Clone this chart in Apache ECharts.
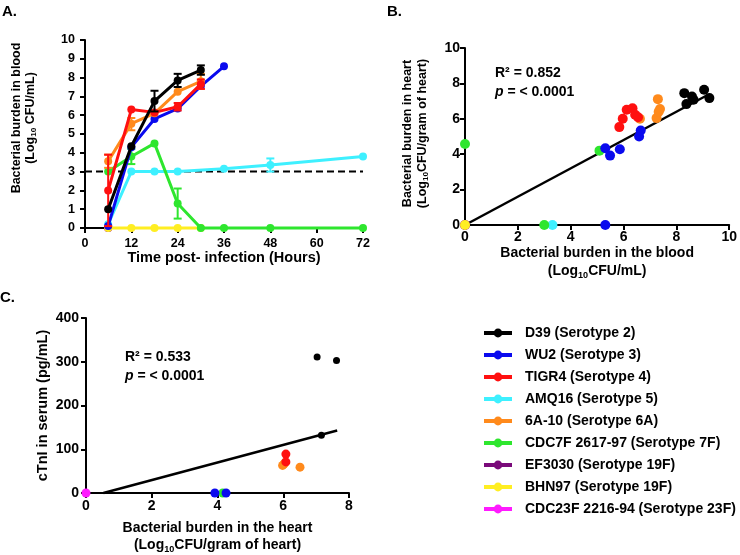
<!DOCTYPE html>
<html>
<head>
<meta charset="utf-8">
<script src="https://cdn.jsdelivr.net/npm/echarts@6/dist/echarts.min.js"></script>
<style>html,body{margin:0;padding:0;background:#fff}#c{width:740px;height:555px}</style>
</head>
<body>
<div id="c"></div>
<script>
// ---------- data ----------
const strains = ['D39 (Serotype 2)', 'WU2 (Serotype 3)', 'TIGR4 (Serotype 4)', 'AMQ16 (Serotype 5)', '6A-10 (Serotype 6A)', 'CDC7F 2617-97 (Serotype 7F)', 'EF3030 (Serotype 19F)', 'BHN97 (Serotype 19F)', 'CDC23F 2216-94 (Serotype 23F)'];
const colors = ['#000000', '#0a0aee', '#ff1010', '#3ef0ff', '#ff8a1c', '#2ee62e', '#7a0a7a', '#ffee22', '#ff1aff'];

// Panel A: time (h) vs log10 CFU/mL in blood
const bloodD39 = [[6, 1], [12, 4.35], [18, 6.75], [24, 7.85], [30, 8.4]];
const bloodWU2 = [[6, 0.1], [12, 4.3], [18, 5.8], [24, 6.35], [30, 7.55], [36, 8.6]];
const bloodTIGR4 = [[6, 2], [12, 6.3], [18, 6.15], [24, 6.45], [30, 7.65]];
const bloodAMQ16 = [[6, 0.2], [12, 3], [18, 3], [24, 3], [36, 3.15], [48, 3.35], [72, 3.8]];
const blood6A = [[6, 3.55], [12, 5.55], [18, 6.1], [24, 7.25], [30, 7.8]];
const bloodCDC7F = [[6, 3], [12, 3.8], [18, 4.5], [24, 1.3], [30, 0], [36, 0], [48, 0], [72, 0]];
const bloodEF3030 = [[6, 0]];
const bloodBHN97 = [[6, 0], [12, 0], [18, 0], [24, 0], [30, 0]];
const bloodCDC23F = [[6, 0]];
// error bars: [time, low, high]
const errD39 = [[18, 6.2, 7.3], [24, 7.5, 8.2], [30, 8.15, 8.65]];
const errTIGR4 = [[6, 0.1, 3.9], [24, 6.25, 6.65], [30, 7.4, 7.9]];
const err6A = [[6, 3.2, 3.9], [12, 5.2, 5.85], [30, 7.4, 8.2]];
const errCDC7F = [[12, 3.4, 4.2], [24, 0.5, 2.1]];
const errAMQ16 = [[48, 3.0, 3.7]];
const thresholdLine = [[0, 3], [72, 3]];
const timeTicks = [0, 12, 24, 36, 48, 60, 72];

// Panel B: blood (x) vs heart (y)
const heartD39 = [[8.3, 7.45], [8.38, 6.83], [8.59, 7.26], [8.65, 7.08], [9.05, 7.64], [9.25, 7.17]];
const heartWU2 = [[5.31, 4.34], [5.49, 3.92], [5.86, 4.28], [6.59, 5.0], [6.65, 5.34], [5.31, 0]];
const heartTIGR4 = [[5.84, 5.53], [5.97, 6.0], [6.12, 6.51], [6.34, 6.6], [6.44, 6.23], [6.55, 6.09]];
const heartAMQ16 = [[3.31, 0]];
const heart6A = [[6.62, 6.0], [7.3, 7.11], [7.38, 6.55], [7.25, 6.04], [7.33, 6.4]];
const heartCDC7F = [[5.09, 4.2], [0, 4.58], [3.0, 0]];
const heartEF3030 = [[0, 0]];
const heartBHN97 = [[0, 0]];
const heartCDC23F = [[0, 0]];
const regB = [[0, 0], [9.2, 7.36]];

// Panel C: heart (x) vs cTnI (y)
const ctnD39 = [[7.03, 311], [7.62, 303], [7.16, 132]];
const ctnWU2 = [[3.92, 0], [4.26, 0]];
const ctnTIGR4 = [[6.08, 89], [6.08, 71]];
const ctn6A = [[5.98, 63], [6.05, 69], [6.51, 59], [6.02, 66]];
const ctnCDC7F = [[4.16, 0]];
const ctnCDC23F = [[0, 0]];
const regC = [[0.53, 0], [7.64, 143]];

// ---------- chart ----------
const FF = '"Liberation Sans", Arial, Helvetica, sans-serif';
const chart = echarts.init(document.getElementById('c'), null, {renderer: 'canvas'});

function axisBase(extra, fs, margin) {
  return Object.assign({
    axisLine: {show: true, onZero: false, lineStyle: {color: '#000', width: 2}},
    axisTick: {show: true, length: 5, lineStyle: {color: '#000', width: 2}},
    axisLabel: {color: '#000', fontWeight: 'bold', fontSize: fs, fontFamily: FF, margin: margin},
    splitLine: {show: false},
    nameTextStyle: {color: '#000', fontFamily: FF}
  }, extra);
}
const subRich = (fs, lh) => ({
  a: {fontSize: fs, fontWeight: 'bold', fontFamily: FF, color: '#000', lineHeight: lh},
  s: {fontSize: fs * 0.65, fontWeight: 'bold', fontFamily: FF, color: '#000', lineHeight: 6, verticalAlign: 'bottom'}
});

function errRender(color) {
  return function (params, api) {
    const x = api.value(0), lo = api.value(1), hi = api.value(2);
    const a = api.coord([x, lo]), b = api.coord([x, hi]);
    const h = 4;
    const st = {stroke: color, lineWidth: 2};
    return {type: 'group', children: [
      {type: 'line', shape: {x1: a[0], y1: a[1], x2: b[0], y2: b[1]}, style: st},
      {type: 'line', shape: {x1: a[0] - h, y1: a[1], x2: a[0] + h, y2: a[1]}, style: st},
      {type: 'line', shape: {x1: b[0] - h, y1: b[1], x2: b[0] + h, y2: b[1]}, style: st}
    ]};
  };
}

const bloodData = [bloodD39, bloodWU2, bloodTIGR4, bloodAMQ16, blood6A, bloodCDC7F, bloodEF3030, bloodBHN97, bloodCDC23F];
const heartData = [heartD39, heartWU2, heartTIGR4, heartAMQ16, heart6A, heartCDC7F, heartEF3030, heartBHN97, heartCDC23F];
const ctnData = [ctnD39, ctnWU2, ctnTIGR4, null, ctn6A, ctnCDC7F, null, null, ctnCDC23F];
const errData = [errD39, null, errTIGR4, errAMQ16, err6A, errCDC7F, null, null, null];
// drawing order for panel A (bottom to top)
const orderA = [8, 6, 7, 3, 5, 1, 4, 2, 0];
const zA = {};
orderA.forEach((k, i) => zA[k] = 3 + i);

const series = [];
series.push({type: 'line', xAxisIndex: 0, yAxisIndex: 0, data: thresholdLine, symbol: 'none', clip: false,
  lineStyle: {color: '#000', width: 2, type: [7, 4]}, z: 2, silent: true});
strains.forEach((name, k) => {
  series.push({type: 'line', name: name, xAxisIndex: 0, yAxisIndex: 0, data: bloodData[k], clip: false,
    symbol: 'circle', symbolSize: 8, lineStyle: {color: colors[k], width: 3}, itemStyle: {color: colors[k]}, z: zA[k]});
});
strains.forEach((name, k) => {
  if (!errData[k]) return;
  series.push({type: 'custom', xAxisIndex: 0, yAxisIndex: 0, data: errData[k], renderItem: errRender(colors[k]),
    encode: {x: 0, y: [1, 2]}, clip: false, z: zA[k], silent: true});
});
// panel B
series.push({type: 'line', xAxisIndex: 1, yAxisIndex: 1, data: regB, symbol: 'none', clip: false,
  lineStyle: {color: '#000', width: 2.5}, z: 2, silent: true});
[8, 6, 7, 3, 5, 1, 4, 2, 0].forEach(k => {
  series.push({type: 'scatter', name: strains[k], xAxisIndex: 1, yAxisIndex: 1, data: heartData[k], clip: false,
    symbol: 'circle', symbolSize: 10, itemStyle: {color: colors[k], opacity: 1}, z: 3});
});
// panel C
series.push({type: 'line', xAxisIndex: 2, yAxisIndex: 2, data: regC, symbol: 'none', clip: false,
  lineStyle: {color: '#000', width: 2.5}, z: 2, silent: true});
[8, 5, 1, 4, 2, 0].forEach(k => {
  if (!ctnData[k]) return;
  series.push({type: 'scatter', name: strains[k], xAxisIndex: 2, yAxisIndex: 2, data: ctnData[k], clip: false,
    symbol: 'circle', symbolSize: k === 0 ? 7 : 9, itemStyle: {color: colors[k], opacity: 1}, z: 3});
});

const option = {
  animation: false,
  backgroundColor: '#fff',
  grid: [
    {left: 85, top: 40, width: 278, height: 188},
    {left: 465, top: 48, width: 268, height: 177},
    {left: 86, top: 318, width: 263, height: 175}
  ],
  xAxis: [
    axisBase({type: 'value', gridIndex: 0, min: timeTicks[0], max: timeTicks[timeTicks.length - 1], interval: 12,
      name: 'Time post- infection (Hours)', nameLocation: 'middle', nameGap: 22,
      nameTextStyle: {color: '#000', fontFamily: FF, fontWeight: 'bold', fontSize: 14.5}}, 12.5, 9),
    axisBase({type: 'value', gridIndex: 1, min: 0, max: 10, interval: 2,
      name: '{a|Bacterial burden in the blood}\n{a|(Log}{s|10}{a|CFU/mL)}', nameLocation: 'middle', nameGap: 19,
      nameTextStyle: {rich: subRich(14, 18)}}, 14, 5),
    axisBase({type: 'value', gridIndex: 2, min: 0, max: 8, interval: 2,
      name: '{a|Bacterial burden in the heart}\n{a|(Log}{s|10}{a|CFU/gram of heart)}', nameLocation: 'middle', nameGap: 27,
      nameTextStyle: {rich: subRich(14, 17)}}, 14, 6)
  ],
  yAxis: [
    axisBase({type: 'value', gridIndex: 0, min: 0, max: 10, interval: 1,
      name: '{a|Bacterial burden in blood}\n{a|(Log}{s|10}{a| CFU/mL)}', nameLocation: 'middle', nameGap: 47,
      nameTextStyle: {rich: subRich(12.5, 14), padding: [0, 0, 0, 32]}}, 12.5, 10),
    axisBase({type: 'value', gridIndex: 1, min: 0, max: 10, interval: 2,
      name: '{a|Bacterial burden in heart}\n{a|(Log}{s|10}{a|CFU/gram of heart)}', nameLocation: 'middle', nameGap: 35,
      nameTextStyle: {rich: subRich(12.5, 15), padding: [0, 0, 0, 6]}}, 14, 5),
    axisBase({type: 'value', gridIndex: 2, min: 0, max: 400, interval: 100,
      name: 'cTnI in serum (pg/mL)', nameLocation: 'middle', nameGap: 36,
      nameTextStyle: {color: '#000', fontFamily: FF, fontWeight: 'bold', fontSize: 14.5}}, 14, 7)
  ],
  legend: {
    orient: 'vertical', left: 477, top: 320, itemWidth: 28, itemHeight: 11, itemGap: 6,
    selectedMode: false, data: strains,
    lineStyle: {width: 4},
    textStyle: {fontSize: 14, fontWeight: 'bold', color: '#000', fontFamily: FF, lineHeight: 16, padding: [0, 0, 0, 8]}
  },
  graphic: [
    {type: 'text', left: 2, top: 4, style: {text: 'A.', font: 'bold 15px ' + FF, fill: '#000'}},
    {type: 'text', left: 387, top: 4, style: {text: 'B.', font: 'bold 15px ' + FF, fill: '#000'}},
    {type: 'text', left: 0, top: 290, style: {text: 'C.', font: 'bold 15px ' + FF, fill: '#000'}},
    {type: 'text', left: 495, top: 66, style: {text: 'R² = 0.852', font: 'bold 14px ' + FF, fill: '#000'}},
    {type: 'text', left: 495, top: 85, style: {text: '{i|p}{a| = < 0.0001}', rich: {
      i: {fontStyle: 'italic', fontWeight: 'bold', fontSize: 14, fontFamily: FF, fill: '#000'},
      a: {fontWeight: 'bold', fontSize: 14, fontFamily: FF, fill: '#000'}}}},
    {type: 'text', left: 125, top: 350, style: {text: 'R² = 0.533', font: 'bold 14px ' + FF, fill: '#000'}},
    {type: 'text', left: 125, top: 369, style: {text: '{i|p}{a| = < 0.0001}', rich: {
      i: {fontStyle: 'italic', fontWeight: 'bold', fontSize: 14, fontFamily: FF, fill: '#000'},
      a: {fontWeight: 'bold', fontSize: 14, fontFamily: FF, fill: '#000'}}}}
  ],
  series: series
};
chart.setOption(option);
</script>
</body>
</html>
